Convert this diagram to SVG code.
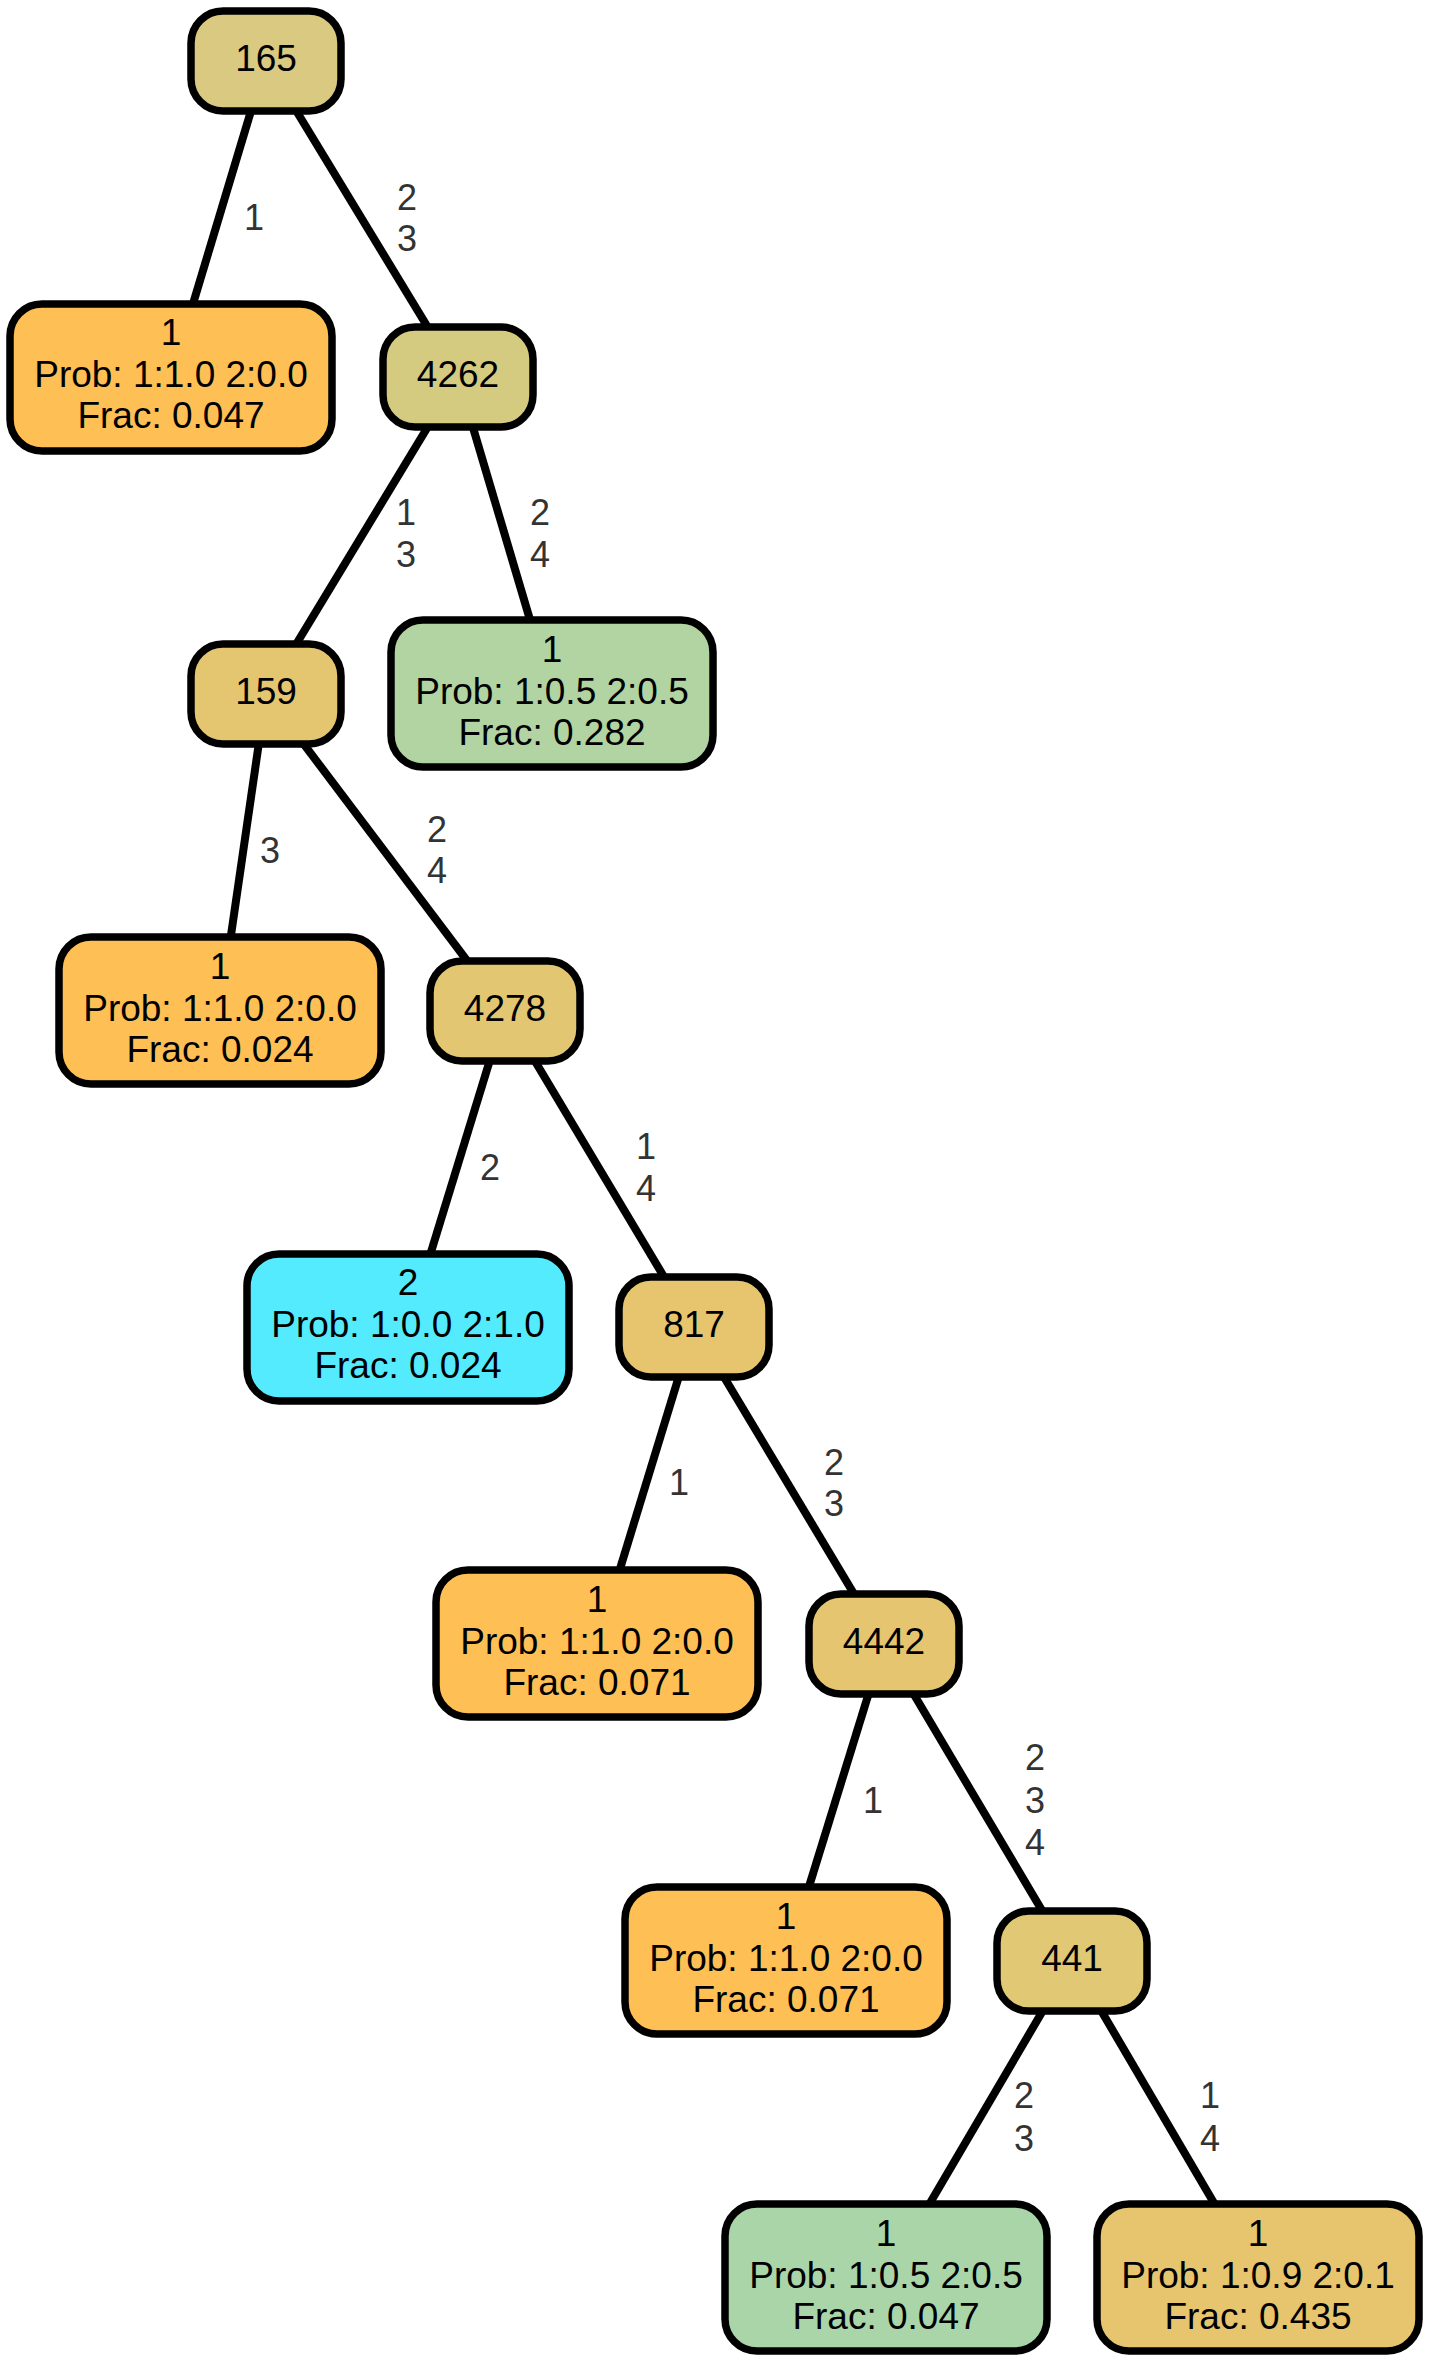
<svg xmlns="http://www.w3.org/2000/svg" width="1431" height="2363" viewBox="0 0 1431 2363">
<style>
.n rect{stroke:#000;stroke-width:7.5}
.n text{font-family:"Liberation Sans",Arial,Helvetica,sans-serif;font-size:37px;fill:#000;text-anchor:middle}
.e line{stroke:#000;stroke-width:8}
.e text{font-family:"Liberation Sans",Arial,Helvetica,sans-serif;font-size:36px;fill:#333;text-anchor:middle}
</style>
<rect width="1431" height="2363" fill="#fff"/>
<g id="connectors" class="e">
<line x1="266" y1="61" x2="171" y2="377"/>
<line x1="266" y1="61" x2="458" y2="377"/>
<line x1="458" y1="377" x2="266" y2="694"/>
<line x1="458" y1="377" x2="552" y2="694"/>
<line x1="266" y1="694" x2="220" y2="1011"/>
<line x1="266" y1="694" x2="505" y2="1011"/>
<line x1="505" y1="1011" x2="408" y2="1327"/>
<line x1="505" y1="1011" x2="694" y2="1327"/>
<line x1="694" y1="1327" x2="597" y2="1644"/>
<line x1="694" y1="1327" x2="884" y2="1644"/>
<line x1="884" y1="1644" x2="786" y2="1961"/>
<line x1="884" y1="1644" x2="1072" y2="1961"/>
<line x1="1072" y1="1961" x2="886" y2="2278"/>
<line x1="1072" y1="1961" x2="1258" y2="2278"/>
<text x="254" y="230">1</text>
<text x="407" y="210">2</text><text x="407" y="251">3</text>
<text x="406" y="525">1</text><text x="406" y="567">3</text>
<text x="540" y="525">2</text><text x="540" y="567">4</text>
<text x="270" y="863">3</text>
<text x="437" y="842">2</text><text x="437" y="883">4</text>
<text x="490" y="1180">2</text>
<text x="646" y="1159">1</text><text x="646" y="1201">4</text>
<text x="679" y="1495">1</text>
<text x="834" y="1475">2</text><text x="834" y="1516">3</text>
<text x="873" y="1813">1</text>
<text x="1035" y="1770">2</text><text x="1035" y="1813">3</text><text x="1035" y="1855">4</text>
<text x="1024" y="2108">2</text><text x="1024" y="2151">3</text>
<text x="1210" y="2108">1</text><text x="1210" y="2151">4</text>
</g>
<g id="n165" class="n"><rect x="191" y="11" width="150" height="100" rx="32" fill="#D9C981"/><text x="266" y="71">165</text></g>
<g id="leafA" class="n"><rect x="10" y="304" width="322" height="147" rx="32" fill="#FEBF55"/><text x="171" y="345">1</text><text x="171" y="387">Prob: 1:1.0 2:0.0</text><text x="171" y="428">Frac: 0.047</text></g>
<g id="n4262" class="n"><rect x="383" y="327" width="150" height="100" rx="32" fill="#D4CB81"/><text x="458" y="387">4262</text></g>
<g id="n159" class="n"><rect x="191" y="644" width="150" height="100" rx="32" fill="#E4C671"/><text x="266" y="704">159</text></g>
<g id="leafB" class="n"><rect x="391" y="620" width="322" height="147" rx="32" fill="#B1D4A2"/><text x="552" y="662">1</text><text x="552" y="704">Prob: 1:0.5 2:0.5</text><text x="552" y="745">Frac: 0.282</text></g>
<g id="leafC" class="n"><rect x="59" y="937" width="322" height="147" rx="32" fill="#FEBF55"/><text x="220" y="979">1</text><text x="220" y="1021">Prob: 1:1.0 2:0.0</text><text x="220" y="1062">Frac: 0.024</text></g>
<g id="n4278" class="n"><rect x="430" y="961" width="150" height="100" rx="32" fill="#E2C672"/><text x="505" y="1021">4278</text></g>
<g id="leafD" class="n"><rect x="247" y="1254" width="322" height="147" rx="32" fill="#55EBFE"/><text x="408" y="1295">2</text><text x="408" y="1337">Prob: 1:0.0 2:1.0</text><text x="408" y="1378">Frac: 0.024</text></g>
<g id="n817" class="n"><rect x="619" y="1277" width="150" height="100" rx="32" fill="#E6C56E"/><text x="694" y="1337">817</text></g>
<g id="leafE" class="n"><rect x="436" y="1570" width="322" height="147" rx="32" fill="#FEBF55"/><text x="597" y="1612">1</text><text x="597" y="1654">Prob: 1:1.0 2:0.0</text><text x="597" y="1695">Frac: 0.071</text></g>
<g id="n4442" class="n"><rect x="809" y="1594" width="150" height="100" rx="32" fill="#E5C56F"/><text x="884" y="1654">4442</text></g>
<g id="leafF" class="n"><rect x="625" y="1887" width="322" height="147" rx="32" fill="#FEBF55"/><text x="786" y="1929">1</text><text x="786" y="1971">Prob: 1:1.0 2:0.0</text><text x="786" y="2012">Frac: 0.071</text></g>
<g id="n441" class="n"><rect x="997" y="1911" width="150" height="100" rx="32" fill="#E0C874"/><text x="1072" y="1971">441</text></g>
<g id="leafG" class="n"><rect x="725" y="2204" width="322" height="147" rx="32" fill="#A9D5A8"/><text x="886" y="2246">1</text><text x="886" y="2288">Prob: 1:0.5 2:0.5</text><text x="886" y="2329">Frac: 0.047</text></g>
<g id="leafH" class="n"><rect x="1097" y="2204" width="322" height="147" rx="32" fill="#E6C56E"/><text x="1258" y="2246">1</text><text x="1258" y="2288">Prob: 1:0.9 2:0.1</text><text x="1258" y="2329">Frac: 0.435</text></g>
</svg>
